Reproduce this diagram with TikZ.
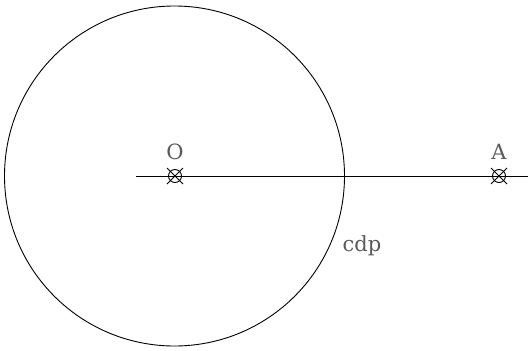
\documentclass[tikz,border=0pt]{standalone}
\usepackage{fontspec}
\setmainfont{DejaVu Serif}
\definecolor{labelgrey}{HTML}{5A5A5A}
\begin{document}
\begin{tikzpicture}[x=1pt,y=-1pt,
  lbl/.style={text=labelgrey,font=\fontsize{21}{24}\selectfont,inner sep=0pt},
  marker/.style={circle,draw,line width=0.9pt,minimum size=13pt,inner sep=0pt},
  xline/.style={line width=0.9pt},
  thinline/.style={line width=0.9pt}]
\useasboundingbox (0,0) rectangle (528,351);
\node[circle,draw,thinline,minimum size=340pt,inner sep=0pt] (cdpcircle) at (174.5,176) {};
\coordinate (lstart) at (136,176);
\coordinate (lend) at (528,176);
\draw[thinline] (lstart) -- (lend);
\node[marker] (O) at (175,176) {};
\node[marker] (A) at (499,176) {};
\foreach \m in {O,A}{
  \draw[xline] (\m.center) +(-8,-8) -- +(8,8);
  \draw[xline] (\m.center) +(-8,8) -- +(8,-8);
}
\node[lbl] (Olabel) at (175,152) {O};
\node[lbl] (Alabel) at (499,152) {A};
\node[lbl] (cdplabel) at (362,246) {cdp};
\end{tikzpicture}
\end{document}
